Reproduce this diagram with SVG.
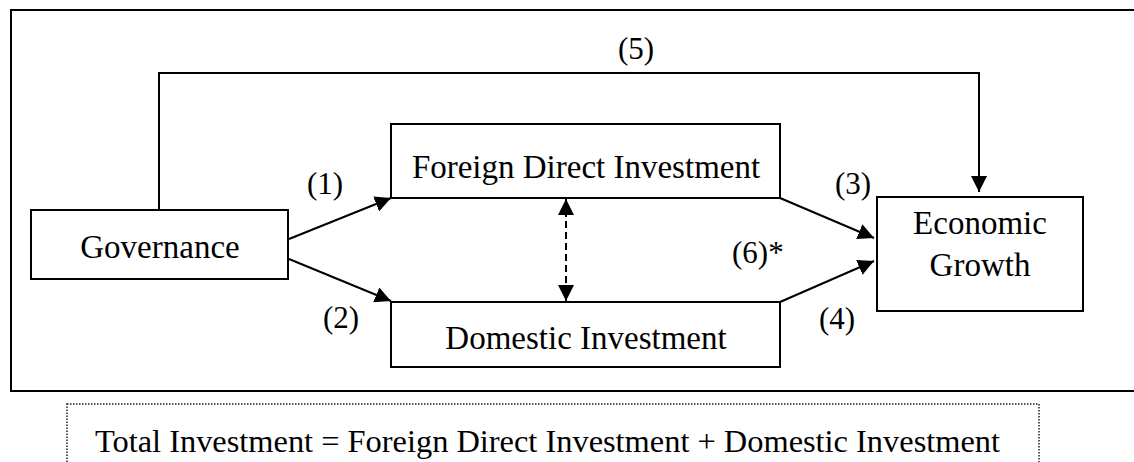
<svg xmlns="http://www.w3.org/2000/svg" width="1134" height="462" viewBox="0 0 1134 462">
  <style>
    .box { fill: #ffffff; stroke: #000000; stroke-width: 2; }
    .frame { fill: none; stroke: #000000; stroke-width: 2; }
    .note { fill: none; stroke: #222222; stroke-width: 1.5; stroke-dasharray: 1.5 1.5; }
    .edge { fill: none; stroke: #000000; stroke-width: 2; }
    .dash { stroke-dasharray: 7 4; }
    text { font-family: 'Liberation Serif', 'Times New Roman', Times, 'DejaVu Serif', serif; font-size: 33px; fill: #000000; }
    .lbl { font-size: 31px; }
    .sum { font-size: 32.4px; }
    .mid { text-anchor: middle; }
  </style>
  <defs>
    <marker id="head" markerUnits="userSpaceOnUse" markerWidth="17" markerHeight="16" refX="16" refY="8" orient="auto-start-reverse">
      <path d="M0,0 L16,8 L0,16 z" fill="#000000" stroke="none"/>
    </marker>
  </defs>

  <!-- outer frame and the note box underneath -->
  <rect class="frame" x="11" y="10" width="1135" height="381"/>
  <g id="note">
    <rect class="note" x="67" y="404" width="972" height="80"/>
    <text class="sum" x="95" y="452">Total Investment = Foreign Direct Investment + Domestic Investment</text>
  </g>

  <!-- connectors -->
  <g id="connectors">
    <path class="edge" d="M159,210 V73 H979 V192" marker-end="url(#head)"/>
    <line class="edge" x1="289" y1="239" x2="391" y2="198" marker-end="url(#head)"/>
    <line class="edge" x1="289" y1="259" x2="391" y2="301" marker-end="url(#head)"/>
    <line class="edge" x1="780" y1="198" x2="874" y2="238" marker-end="url(#head)"/>
    <line class="edge" x1="780" y1="302" x2="874" y2="261" marker-end="url(#head)"/>
    <line class="edge dash" x1="566" y1="199" x2="566" y2="301" marker-start="url(#head)" marker-end="url(#head)"/>
    <text class="lbl mid" x="636" y="59">(5)</text>
    <text class="lbl mid" x="325" y="194">(1)</text>
    <text class="lbl mid" x="341" y="328">(2)</text>
    <text class="lbl mid" x="853" y="194">(3)</text>
    <text class="lbl mid" x="837" y="329">(4)</text>
    <text class="lbl" x="732" y="263">(6)*</text>
  </g>

  <!-- nodes -->
  <g id="governance">
    <rect class="box" x="31" y="210" width="257" height="69"/>
    <text class="mid" x="160" y="258">Governance</text>
  </g>
  <g id="fdi">
    <rect class="box" x="391" y="124" width="389" height="74"/>
    <text class="mid" x="586" y="178">Foreign Direct Investment</text>
  </g>
  <g id="domestic">
    <rect class="box" x="391" y="302" width="389" height="65"/>
    <text class="mid" x="586" y="349">Domestic Investment</text>
  </g>
  <g id="growth">
    <rect class="box" x="877" y="197" width="206" height="114"/>
    <text class="mid" x="980" y="234">Economic</text>
    <text class="mid" x="980" y="276">Growth</text>
  </g>
</svg>
